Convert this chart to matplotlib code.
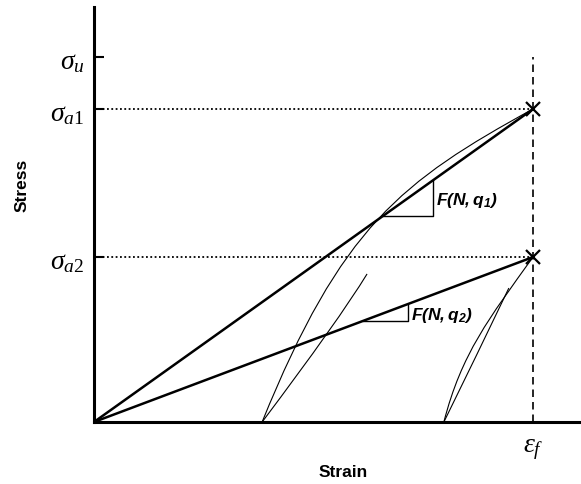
import numpy as np
import matplotlib
matplotlib.use('Agg')
import matplotlib.pyplot as plt
from matplotlib.path import Path
from matplotlib.patches import PathPatch

plt.rcParams['mathtext.fontset'] = 'custom'
plt.rcParams['mathtext.it'] = 'Liberation Serif:italic'
plt.rcParams['mathtext.rm'] = 'Liberation Serif'
plt.rcParams['mathtext.bf'] = 'Liberation Sans:bold:italic'

# strain normalised by failure strain, stress normalised by sigma_a1
eps_f = 1.0
sig_u = 1.166
sig_a1 = 1.0
sig_a2 = 0.527

# secant lines from origin to failure points
secant1_x = [0.0, eps_f]
secant1_y = [0.0, sig_a1]
secant2_x = [0.0, eps_f]
secant2_y = [0.0, sig_a2]

# hysteresis loops (thin curves), given as bezier control points
loop1_up_x = [0.383, 0.563, 0.700, 1.0]
loop1_up_y = [0.0, 0.623, 0.769, 1.0]
loop1_dn_x = [0.383, 0.558, 0.622]
loop1_dn_y = [0.0, 0.326, 0.473]
loop2_up_x = [0.797, 0.837, 0.900, 1.0]
loop2_up_y = [0.0, 0.219, 0.331, 0.527]
loop2_dn_x = [0.797, 0.872, 0.945]
loop2_dn_y = [0.0, 0.214, 0.428]

# slope triangles: x range along each secant
tri1_x = [0.658, 0.772]
tri2_x = [0.613, 0.715]


def bezier(ax, xs, ys, lw=0.8):
    codes = {3: Path.CURVE3, 4: Path.CURVE4}[len(xs)]
    path = Path(np.column_stack([xs, ys]), [Path.MOVETO] + [codes] * (len(xs) - 1))
    ax.add_patch(PathPatch(path, facecolor='none', edgecolor='black', lw=lw))


fig = plt.figure(figsize=(5.81, 4.85), dpi=100)
ax = fig.add_axes([94/581, 62/485, 487/581, 415/485])
ax.set_xlim(0, 487/439)
ax.set_ylim(0, 415/313)

for s in ['top', 'right']:
    ax.spines[s].set_visible(False)
for s in ['left', 'bottom']:
    ax.spines[s].set_linewidth(2.2)

# reference lines
ax.plot([0, eps_f], [sig_a1, sig_a1], color='black', lw=1.3, ls=(0, (1, 1.4)))
ax.plot([0, eps_f], [sig_a2, sig_a2], color='black', lw=1.3, ls=(0, (1, 1.4)))
ax.plot([eps_f, eps_f], [0, sig_u], color='black', lw=1.2, ls=(0, (4.5, 3)))

ax.plot(secant1_x, secant1_y, color='black', lw=1.8)
ax.plot(secant2_x, secant2_y, color='black', lw=1.8)

bezier(ax, loop1_up_x, loop1_up_y)
bezier(ax, loop1_dn_x, loop1_dn_y)
bezier(ax, loop2_up_x, loop2_up_y)
bezier(ax, loop2_dn_x, loop2_dn_y)

ax.plot([eps_f, eps_f], [sig_a1, sig_a2], ls='none', marker='x',
        ms=10, mew=1.6, color='black', clip_on=False)

# slope triangles
k1 = sig_a1 / eps_f
k2 = sig_a2 / eps_f
ax.plot([tri1_x[0], tri1_x[1], tri1_x[1]],
        [k1*tri1_x[0], k1*tri1_x[0], k1*tri1_x[1]], color='black', lw=1.0)
ax.plot([tri2_x[0], tri2_x[1], tri2_x[1]],
        [k2*tri2_x[0], k2*tri2_x[0], k2*tri2_x[1]], color='black', lw=1.0)
ax.text(tri1_x[1] + 0.008, 0.712, r'$\mathbf{F(N,q_1)}$', fontsize=12.5,
        va='center', ha='left')
ax.text(tri2_x[1] + 0.008, 0.345, r'$\mathbf{F(N,q_2)}$', fontsize=12.5,
        va='center', ha='left')

ax.set_yticks([sig_a2, sig_a1, sig_u])
ax.set_yticklabels([r'$\sigma_{\mathit{a2}}$', r'$\sigma_{\mathit{a1}}$', r'$\sigma_u$'],
                   fontsize=20)
ax.tick_params(axis='y', direction='in', length=7, width=1.5, pad=7)
ax.set_xticks([eps_f])
ax.set_xticklabels([r'$\varepsilon_f$'], fontsize=20)
ax.tick_params(axis='x', length=0, pad=8)

ax.set_xlabel('Strain', fontsize=12.5, fontweight='bold', family='Liberation Sans',
              va='center')
ax.set_ylabel('Stress', fontsize=12.5, fontweight='bold', family='Liberation Sans',
              va='center')
ax.xaxis.set_label_coords((343-94)/487, (423-473)/415)
ax.yaxis.set_label_coords((22-94)/487, (423-185)/415)

fig.savefig('out.png', dpi=100)
